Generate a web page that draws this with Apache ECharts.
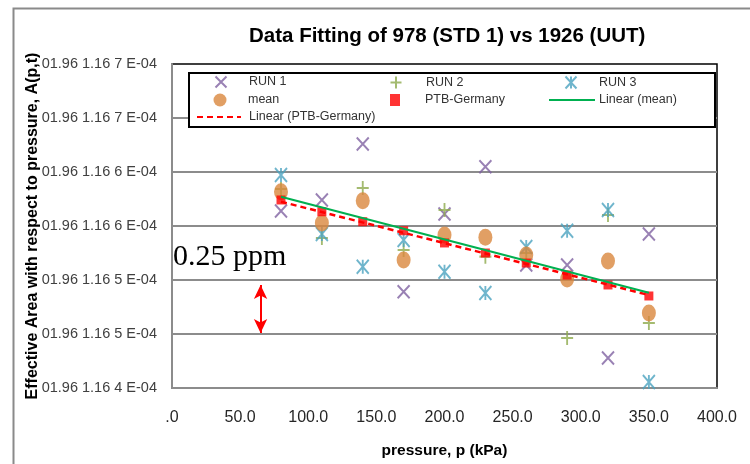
<!DOCTYPE html>
<html>
<head>
<meta charset="utf-8">
<script src="https://cdn.jsdelivr.net/npm/echarts@6/dist/echarts.min.js"></script>
<style>html,body{margin:0;padding:0;background:#fff}#c{width:750px;height:464px}</style>
</head>
<body>
<div id="c"></div>
<script>
// ---- data ----
var pressure = [80, 110, 140, 170, 200, 230, 260, 290, 320, 350];
var run1 = [5.639, 5.741, 6.259, 4.892, 5.611, 6.049, 5.139, 5.139, 4.278, 5.426];
var run2 = [5.843, 5.389, 5.852, 5.278, 5.648, 5.216, 5.250, 4.463, 5.602, 4.602];
var run3 = [5.972, 5.426, 5.123, 5.370, 5.077, 4.880, 5.306, 5.456, 5.648, 4.056];
var meanVals = [5.818, 5.528, 5.734, 5.185, 5.417, 5.395, 5.231, 5.009, 5.176, 4.694];
var ptb = [5.741, 5.632, 5.540, 5.456, 5.343, 5.250, 5.157, 5.046, 4.954, 4.852];
var trendMeanX = [80, 350];
var trendMeanY = [5.771, 4.882];
var trendPtbX = [80, 350];
var trendPtbY = [5.725, 4.861];
var arrowX = [65, 65];
var arrowY = [4.954, 4.509];
var xTickLabels = ['.0', '50.0', '100.0', '150.0', '200.0', '250.0', '300.0', '350.0', '400.0'];
var yTickLabels = ['01.96 1.16 4 E-04', '01.96 1.16 5 E-04', '01.96 1.16 5 E-04', '01.96 1.16 6 E-04',
                   '01.96 1.16 6 E-04', '01.96 1.16 7 E-04', '01.96 1.16 7 E-04'];

function pairs(xs, ys) { return xs.map(function (x, i) { return [x, ys[i]]; }); }

var SANS = "'Liberation Sans', Arial, sans-serif";

var X_PATH = 'path://M0,0L10,10M10,0L0,10';
var PLUS_PATH = 'path://M5,0L5,10M0,5L10,5';
var STAR_PATH = 'path://M0,0L10,10M10,0L0,10M5,0L5,10';

var C1 = '#7F62A1', C2 = '#8DAA4C', C3 = '#4BA3BF', CM = '#D9873D', CP = '#FF0000', CL = '#00B050';

// marker legend entry: icon centred at cx, text starting at tx, row centred at cy
function legMarker(name, icon, fill, stroke, w, h, cx, tx, cy) {
  var left = cx - w / 2;
  var pad = tx - (left + w + 5);
  return {
    data: [{ name: name, icon: icon,
             itemStyle: { color: fill, borderColor: stroke, borderWidth: stroke ? 2 : 0 } }],
    left: left, top: cy - 7.5, itemWidth: w, itemHeight: h, padding: 0,
    symbolKeepAspect: false, selectedMode: false, z: 100,
    textStyle: { fontFamily: SANS, fontSize: 12.5, color: '#333', padding: [0, 0, 0, pad] }
  };
}
function legLine(name, x0, x1, tx, cy) {
  var w = x1 - x0;
  return {
    data: [{ name: name, itemStyle: { opacity: 0 } }],
    left: x0, top: cy - 7.5, itemWidth: w, itemHeight: 15, padding: 0,
    selectedMode: false, z: 100,
    textStyle: { fontFamily: SANS, fontSize: 12.5, color: '#333', padding: [0, 0, 0, tx - x1 - 5] }
  };
}

var chart = echarts.init(document.getElementById('c'));
chart.setOption({
  backgroundColor: '#fff',
  animation: false,
  title: {
    text: 'Data Fitting of 978 (STD 1) vs 1926 (UUT)',
    left: 249, top: 26, padding: 0,
    textStyle: { fontFamily: SANS, fontSize: 20.5, fontWeight: 'bold', color: '#000' }
  },
  legend: [
    legMarker('RUN 1', X_PATH, 'rgba(0,0,0,0)', C1, 11, 11, 220, 248, 83),
    legMarker('RUN 2', PLUS_PATH, 'rgba(0,0,0,0)', C2, 11, 12, 395, 425, 83),
    legMarker('RUN 3', STAR_PATH, 'rgba(0,0,0,0)', C3, 11, 12, 570, 598, 83),
    legMarker('mean', 'circle', CM, null, 13, 15, 220, 248, 101),
    legMarker('PTB-Germany', 'rect', CP, null, 10, 12, 395, 425, 101),
    legLine('Linear (mean)', 548, 594, 598, 101),
    legLine('Linear (PTB-Germany)', 196, 240, 248, 118)
  ],
  graphic: [
    { type: 'rect', left: 11, top: 6, z: -10, silent: true,
      shape: { width: 800, height: 500 }, style: { fill: 'none', stroke: '#8a8a8a', lineWidth: 2 } },
    { type: 'rect', left: 188, top: 72, z: 50, silent: true,
      shape: { width: 526, height: 54 }, style: { fill: '#fff', stroke: '#000', lineWidth: 2 } },
    { type: 'text', left: 173, top: 242, z: 50, silent: true,
      style: { text: '0.25 ppm', fontFamily: "'Liberation Serif', 'Times New Roman', serif", fontSize: 30, fill: '#000' } }
  ],
  grid: {
    left: 172, right: 33, top: 64, bottom: 76,
    show: true, borderColor: '#000', borderWidth: 1.5, backgroundColor: 'transparent'
  },
  xAxis: {
    type: 'value', min: 0, max: 400, interval: 50,
    name: 'pressure, p (kPa)', nameLocation: 'middle', nameGap: 55,
    nameTextStyle: { fontFamily: SANS, fontSize: 15.5, fontWeight: 'bold', color: '#000' },
    axisLine: { show: true, lineStyle: { color: '#8c8c8c', width: 2 } },
    axisTick: { show: false },
    splitLine: { show: false },
    axisLabel: {
      fontFamily: SANS, fontSize: 16, color: '#262626', margin: 22,
      formatter: function (v) { return xTickLabels[Math.round(v / 50)]; }
    }
  },
  yAxis: {
    type: 'value', min: 4, max: 7, interval: 0.5,
    name: 'Effective Area with respect to pressure, A(p,t)', nameLocation: 'middle', nameGap: 131, nameRotate: 90,
    nameMoveOverlap: false,
    nameTextStyle: { fontFamily: SANS, fontSize: 16, fontWeight: 'bold', color: '#000' },
    axisLine: { show: true, lineStyle: { color: '#8c8c8c', width: 2 } },
    axisTick: { show: false },
    splitLine: { show: true, showMaxLine: false, lineStyle: { color: '#8c8c8c', width: 2 } },
    axisLabel: {
      fontFamily: SANS, fontSize: 14.5, color: '#404040', margin: 15,
      formatter: function (v) { return yTickLabels[Math.round((v - 4) / 0.5)]; }
    }
  },
  series: [
    { name: 'RUN 1', type: 'scatter', data: pairs(pressure, run1), symbol: X_PATH, symbolSize: [12, 13],
      itemStyle: { color: 'rgba(0,0,0,0)', borderColor: C1, borderWidth: 2 } },
    { name: 'RUN 2', type: 'scatter', data: pairs(pressure, run2), symbol: PLUS_PATH, symbolSize: [12, 14],
      itemStyle: { color: 'rgba(0,0,0,0)', borderColor: C2, borderWidth: 2 } },
    { name: 'RUN 3', type: 'scatter', data: pairs(pressure, run3), symbol: STAR_PATH, symbolSize: [12, 14],
      itemStyle: { color: 'rgba(0,0,0,0)', borderColor: C3, borderWidth: 2 } },
    { name: 'mean', type: 'scatter', data: pairs(pressure, meanVals), symbol: 'circle', symbolSize: [14, 17],
      itemStyle: { color: CM } },
    { name: 'PTB-Germany', type: 'scatter', data: pairs(pressure, ptb), symbol: 'rect', symbolSize: [9, 9],
      itemStyle: { color: CP } },
    { name: 'Linear (PTB-Germany)', type: 'line', data: pairs(trendPtbX, trendPtbY), symbol: 'none',
      lineStyle: { color: CP, width: 2.5, type: [6, 4] }, itemStyle: { color: CP },
      markLine: {
        silent: true, symbol: ['arrow', 'arrow'], symbolSize: [10, 14],
        label: { show: false },
        lineStyle: { color: CP, width: 2, type: 'solid' },
        data: [[{ coord: [arrowX[0], arrowY[0]] }, { coord: [arrowX[1], arrowY[1]] }]]
      } },
    { name: 'Linear (mean)', type: 'line', data: pairs(trendMeanX, trendMeanY), symbol: 'none',
      lineStyle: { color: CL, width: 2 }, itemStyle: { color: CL } }
  ]
});
</script>
</body>
</html>
